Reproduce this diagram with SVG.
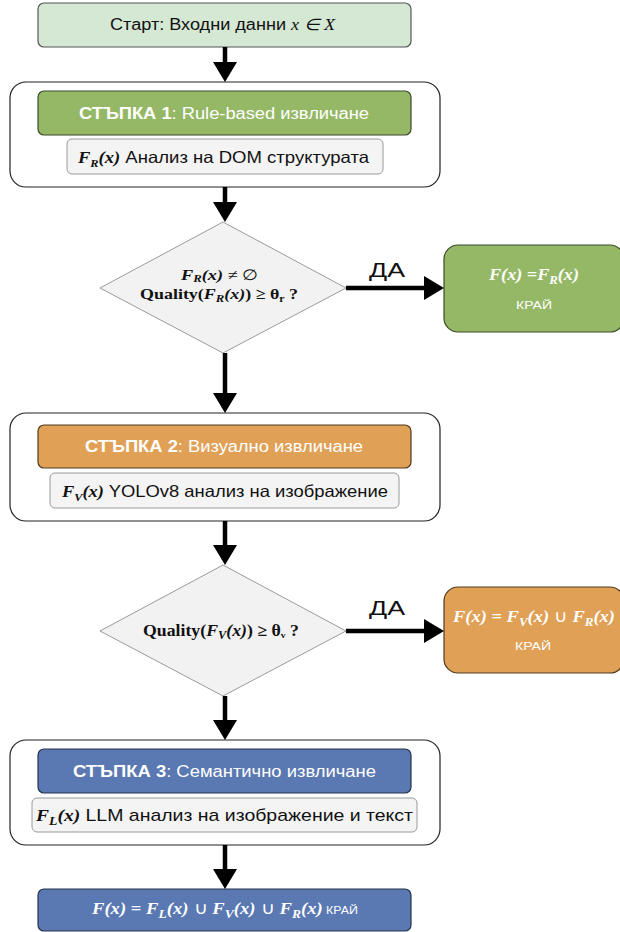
<svg xmlns="http://www.w3.org/2000/svg" width="620" height="932" viewBox="0 0 620 932">
<defs>
<style>
.bg{fill:#ffffff}
.start{fill:#d5e8d4;stroke:#555;stroke-width:1.2}
.cont{fill:#ffffff;stroke:#222;stroke-width:1.2}
.sub{fill:#f4f4f4;stroke:#9a9a9a;stroke-width:1}
.dia{fill:#f2f2f2;stroke:#9a9a9a;stroke-width:1}
.green{fill:#95b866;stroke:#3c4a2a;stroke-width:1.2}
.orange{fill:#e0a157;stroke:#4f3a20;stroke-width:1.2}
.blue{fill:#5a78b2;stroke:#26324a;stroke-width:1.2}
.sans{font-family:"Liberation Sans",Arial,sans-serif}
.serif{font-family:"Liberation Serif","Times New Roman",serif}
.mi{font-family:"Liberation Serif","Times New Roman",serif;font-style:italic;font-weight:bold}
.mb{font-family:"Liberation Serif","Times New Roman",serif;font-weight:bold}
.w{fill:#ffffff}
.k{fill:#111111}
.conn line{stroke:#000;stroke-width:4.5}
</style>
<marker id="ah" markerUnits="userSpaceOnUse" markerWidth="22" markerHeight="24" refX="8" refY="12" orient="auto">
<path d="M0,0 L20,12 L0,24 z" fill="#000"/>
</marker>
</defs>
<rect class="bg" x="0" y="0" width="620" height="932"/>

<g id="start">
<rect class="start" x="38" y="3" width="373" height="44" rx="6"/>
<text x="110" y="30" font-size="16" class="k" textLength="225" lengthAdjust="spacingAndGlyphs"><tspan class="sans">Старт: Входни данни </tspan><tspan class="serif" font-style="italic">x ∈ X</tspan></text>
</g>

<g id="step1">
<rect class="cont" x="10" y="82" width="430" height="105" rx="16"/>
<rect class="green" x="38" y="91" width="373" height="44" rx="6"/>
<text x="79" y="118.5" font-size="16" class="sans w" textLength="290" lengthAdjust="spacingAndGlyphs"><tspan font-weight="bold">СТЪПКА 1</tspan>: Rule-based извличане</text>
<rect class="sub" x="67" y="139" width="316" height="35" rx="5"/>
<text x="78" y="162.5" font-size="16.5" class="k" textLength="291" lengthAdjust="spacingAndGlyphs"><tspan class="mi">F<tspan font-size="11" dy="4">R</tspan><tspan dy="-4">(x)</tspan></tspan><tspan class="sans"> Анализ на DOM структурата</tspan></text>
</g>

<g id="decision1">
<polygon class="dia" points="223,222 346,288 223,353 100,288"/>
<text x="181" y="280" font-size="15" class="k" textLength="77" lengthAdjust="spacingAndGlyphs"><tspan class="mi">F<tspan font-size="10.5" dy="2">R</tspan><tspan dy="-2">(x)</tspan></tspan><tspan class="serif"> ≠ ∅</tspan></text>
<text x="140" y="299" font-size="15.5" class="k" textLength="158" lengthAdjust="spacingAndGlyphs"><tspan class="mb">Quality(</tspan><tspan class="mi">F<tspan font-size="11" dy="3">R</tspan><tspan dy="-3">(x)</tspan></tspan><tspan class="mb">) ≥ θ<tspan font-size="10" dy="3">r</tspan><tspan dy="-3"> ?</tspan></tspan></text>
</g>

<g id="result1">
<rect class="green" x="444" y="245" width="180" height="87" rx="14"/>
<text x="489" y="280" font-size="17" class="w" textLength="90" lengthAdjust="spacingAndGlyphs"><tspan class="mi">F(x) =F<tspan font-size="12" dy="4">R</tspan><tspan dy="-4">(x)</tspan></tspan></text>
<text x="516" y="309" font-size="11" class="sans w" textLength="36" lengthAdjust="spacingAndGlyphs">КРАЙ</text>
</g>

<g id="step2">
<rect class="cont" x="10" y="413" width="430" height="108" rx="16"/>
<rect class="orange" x="38" y="425" width="373" height="43" rx="6"/>
<text x="85" y="452" font-size="16" class="sans w" textLength="278" lengthAdjust="spacingAndGlyphs"><tspan font-weight="bold">СТЪПКА 2</tspan>: Визуално извличане</text>
<rect class="sub" x="50" y="473" width="349" height="35" rx="5"/>
<text x="62" y="496.5" font-size="16.5" class="k" textLength="326" lengthAdjust="spacingAndGlyphs"><tspan class="mi">F<tspan font-size="11" dy="4">V</tspan><tspan dy="-4">(x)</tspan></tspan><tspan class="sans"> YOLOv8 анализ на изображение</tspan></text>
</g>

<g id="decision2">
<polygon class="dia" points="223,565 346,631 223,696 100,631"/>
<text x="143" y="636" font-size="16.5" class="k" textLength="156" lengthAdjust="spacingAndGlyphs"><tspan class="mb">Quality(</tspan><tspan class="mi">F<tspan font-size="11.5" dy="3">V</tspan><tspan dy="-3">(x)</tspan></tspan><tspan class="mb">) ≥ θ<tspan font-size="9" dy="2">v</tspan><tspan dy="-2"> ?</tspan></tspan></text>
</g>

<g id="result2">
<rect class="orange" x="444" y="587" width="180" height="86" rx="14"/>
<text x="453" y="622" font-size="17" class="w" textLength="162" lengthAdjust="spacingAndGlyphs"><tspan class="mi">F(x)</tspan><tspan class="mb"> = </tspan><tspan class="mi">F<tspan font-size="12" dy="4">V</tspan><tspan dy="-4">(x)</tspan></tspan><tspan class="sans"> ∪ </tspan><tspan class="mi">F<tspan font-size="12" dy="4">R</tspan><tspan dy="-4">(x)</tspan></tspan></text>
<text x="515" y="650" font-size="11" class="sans w" textLength="36" lengthAdjust="spacingAndGlyphs">КРАЙ</text>
</g>

<g id="step3">
<rect class="cont" x="10" y="740" width="430" height="105" rx="16"/>
<rect class="blue" x="38" y="749" width="373" height="44" rx="6"/>
<text x="73" y="776.5" font-size="16" class="sans w" textLength="303" lengthAdjust="spacingAndGlyphs"><tspan font-weight="bold">СТЪПКА 3</tspan>: Семантично извличане</text>
<rect class="sub" x="32" y="798" width="385" height="34" rx="5"/>
<text x="36" y="821" font-size="17" class="k" textLength="377" lengthAdjust="spacingAndGlyphs"><tspan class="mi">F<tspan font-size="12" dy="4">L</tspan><tspan dy="-4">(x)</tspan></tspan><tspan class="sans"> LLM анализ на изображение и текст</tspan></text>
</g>

<g id="final">
<rect class="blue" x="38" y="889" width="373" height="42" rx="6"/>
<text x="92" y="914" font-size="16.5" class="w" textLength="266" lengthAdjust="spacingAndGlyphs"><tspan class="mi">F(x)</tspan><tspan class="mb"> = </tspan><tspan class="mi">F<tspan font-size="12" dy="4">L</tspan><tspan dy="-4">(x)</tspan></tspan><tspan class="sans"> ∪ </tspan><tspan class="mi">F<tspan font-size="12" dy="4">V</tspan><tspan dy="-4">(x)</tspan></tspan><tspan class="sans"> ∪ </tspan><tspan class="mi">F<tspan font-size="12" dy="4">R</tspan><tspan dy="-4">(x)</tspan></tspan><tspan class="sans" font-size="11"> КРАЙ</tspan></text>
</g>

<g id="connectors" class="conn">
<line x1="225" y1="47" x2="225" y2="70" marker-end="url(#ah)"/>
<line x1="225" y1="187" x2="225" y2="210" marker-end="url(#ah)"/>
<line x1="225" y1="353" x2="225" y2="401" marker-end="url(#ah)"/>
<line x1="225" y1="521" x2="225" y2="553" marker-end="url(#ah)"/>
<line x1="225" y1="696" x2="225" y2="728" marker-end="url(#ah)"/>
<line x1="225" y1="845" x2="225" y2="877" marker-end="url(#ah)"/>
<line x1="346" y1="288" x2="432" y2="288" marker-end="url(#ah)"/>
<line x1="346" y1="631" x2="432" y2="631" marker-end="url(#ah)"/>
<text x="369" y="277" font-size="20" class="sans k" stroke="none" textLength="36" lengthAdjust="spacingAndGlyphs">ДА</text>
<text x="369" y="615" font-size="20" class="sans k" stroke="none" textLength="36" lengthAdjust="spacingAndGlyphs">ДА</text>
</g>
</svg>
